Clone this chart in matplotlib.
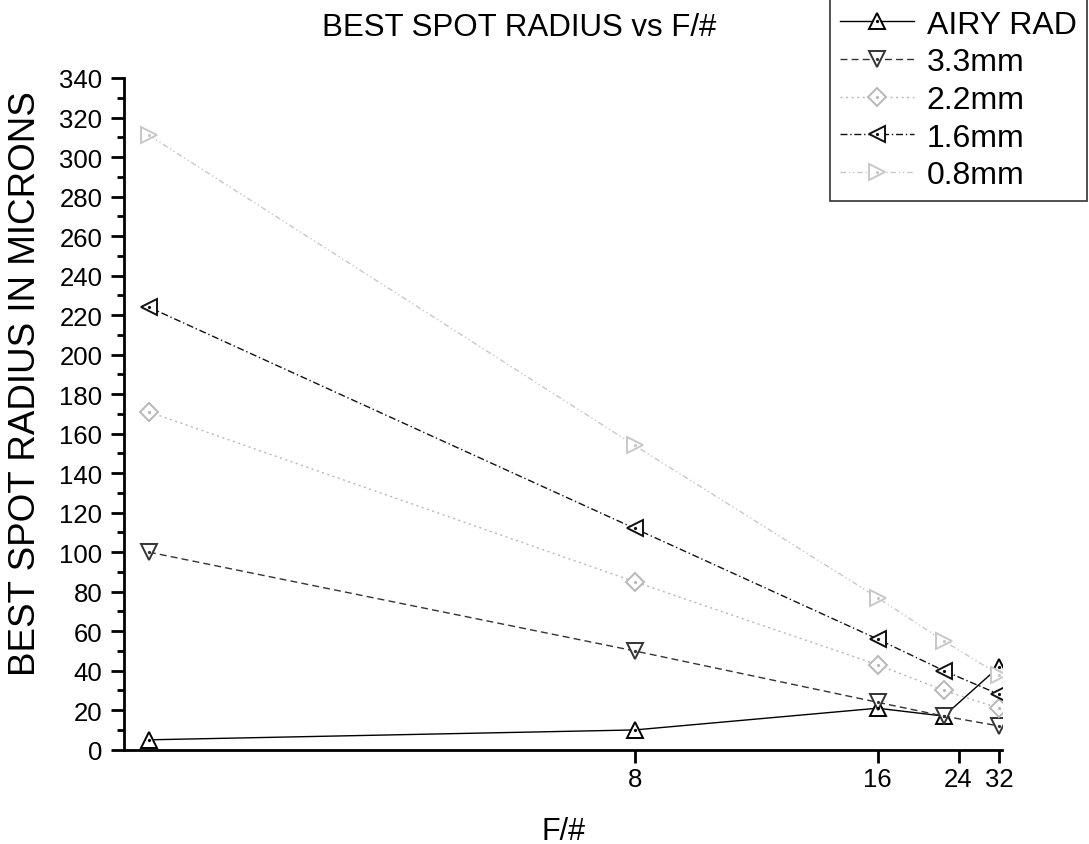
import matplotlib
matplotlib.use("Agg")
import matplotlib.pyplot as plt
from matplotlib.legend_handler import HandlerTuple

plt.rcParams['font.family'] = ['Liberation Sans', 'DejaVu Sans']

f_number = [4, 8, 16, 22, 32]
airy_rad = [5, 10, 21, 17, 42]
r_3_3mm = [100, 50, 24, 17, 12]
r_2_2mm = [171, 85, 43, 30, 21]
r_1_6mm = [224, 112, 56, 40, 28]
r_0_8mm = [311, 154, 77, 55, 38]
labels = ["AIRY RAD", "3.3mm", "2.2mm", "1.6mm", "0.8mm"]
x_ticks = [8, 16, 24, 32]
y_ticks = list(range(0, 341, 20))

series = [airy_rad, r_3_3mm, r_2_2mm, r_1_6mm, r_0_8mm]
styles = [
    dict(color='black', ls='-', marker='^', ms=12),
    dict(color='#333333', ls=(0, (5, 3)), marker='v', ms=12),
    dict(color='#b8b8b8', ls=(0, (1.5, 2.5)), marker='D', ms=9.5),
    dict(color='#111111', ls=(0, (5, 2, 1, 2)), marker='<', ms=12),
    dict(color='#c8c8c8', ls=(0, (4, 2, 1, 2, 1, 2)), marker='>', ms=12),
]

fig = plt.figure(figsize=(10.89, 8.45), dpi=100)
ax = fig.add_axes([124/1089, 1-750.7/845, (1002-124)/1089, (750.7-79)/845])
ax.set_xscale('function', functions=(lambda x: -1.0/x, lambda y: -1.0/y))

handles = []
for vals, st, lab in zip(series, styles, labels):
    ln, = ax.plot(f_number, vals, color=st['color'], linestyle=st['ls'], lw=1.0,
                  marker=st['marker'], ms=st['ms'], mfc='white', mec=st['color'], mew=1.4,
                  label=lab, zorder=3)
    dot, = ax.plot(f_number, vals, linestyle='none', marker='o', ms=1.3,
                   mfc=st['color'], mec=st['color'], zorder=4)
    handles.append((ln, dot))

ax.set_xlim(3.9, 32.8)
ax.set_ylim(0, 340)
ax.set_xticks(x_ticks)
ax.set_xticklabels([str(t) for t in x_ticks])
ax.set_xticks([], minor=True)
ax.set_yticks(y_ticks)
ax.set_yticks(list(range(10, 340, 20)), minor=True)

for s in ['top', 'right']:
    ax.spines[s].set_visible(False)
for s in ['left', 'bottom']:
    ax.spines[s].set_linewidth(2)

ax.tick_params(axis='both', which='major', direction='out', length=9.5, width=2, labelsize=18.5)
ax.tick_params(axis='y', which='minor', direction='out', length=5, width=2)
ax.tick_params(axis='x', which='major', pad=3)
ax.tick_params(axis='y', which='major', pad=6)

fig.text(564/1089, 1-840/845, "F/#", fontsize=22, ha='center', va='baseline')
fig.text(35/1089, 1-384/845, "BEST SPOT RADIUS IN MICRONS", fontsize=26.5, rotation=90,
         rotation_mode='anchor', ha='center', va='baseline')
fig.text(519.5/1089, 1-36/845, "BEST SPOT RADIUS vs F/#", fontsize=22.5, ha='center', va='baseline')

leg = fig.legend(handles, labels, handler_map={tuple: HandlerTuple(ndivide=1)},
                 loc='upper right', bbox_to_anchor=(1087/1089, 1.0), fontsize=23,
                 frameon=True, fancybox=False, edgecolor='black', borderpad=0.33,
                 labelspacing=0.24, handlelength=2.3, handletextpad=0.4, borderaxespad=0.0)
leg.get_frame().set_linewidth(1.2)

fig.savefig("out.png", dpi=100)
